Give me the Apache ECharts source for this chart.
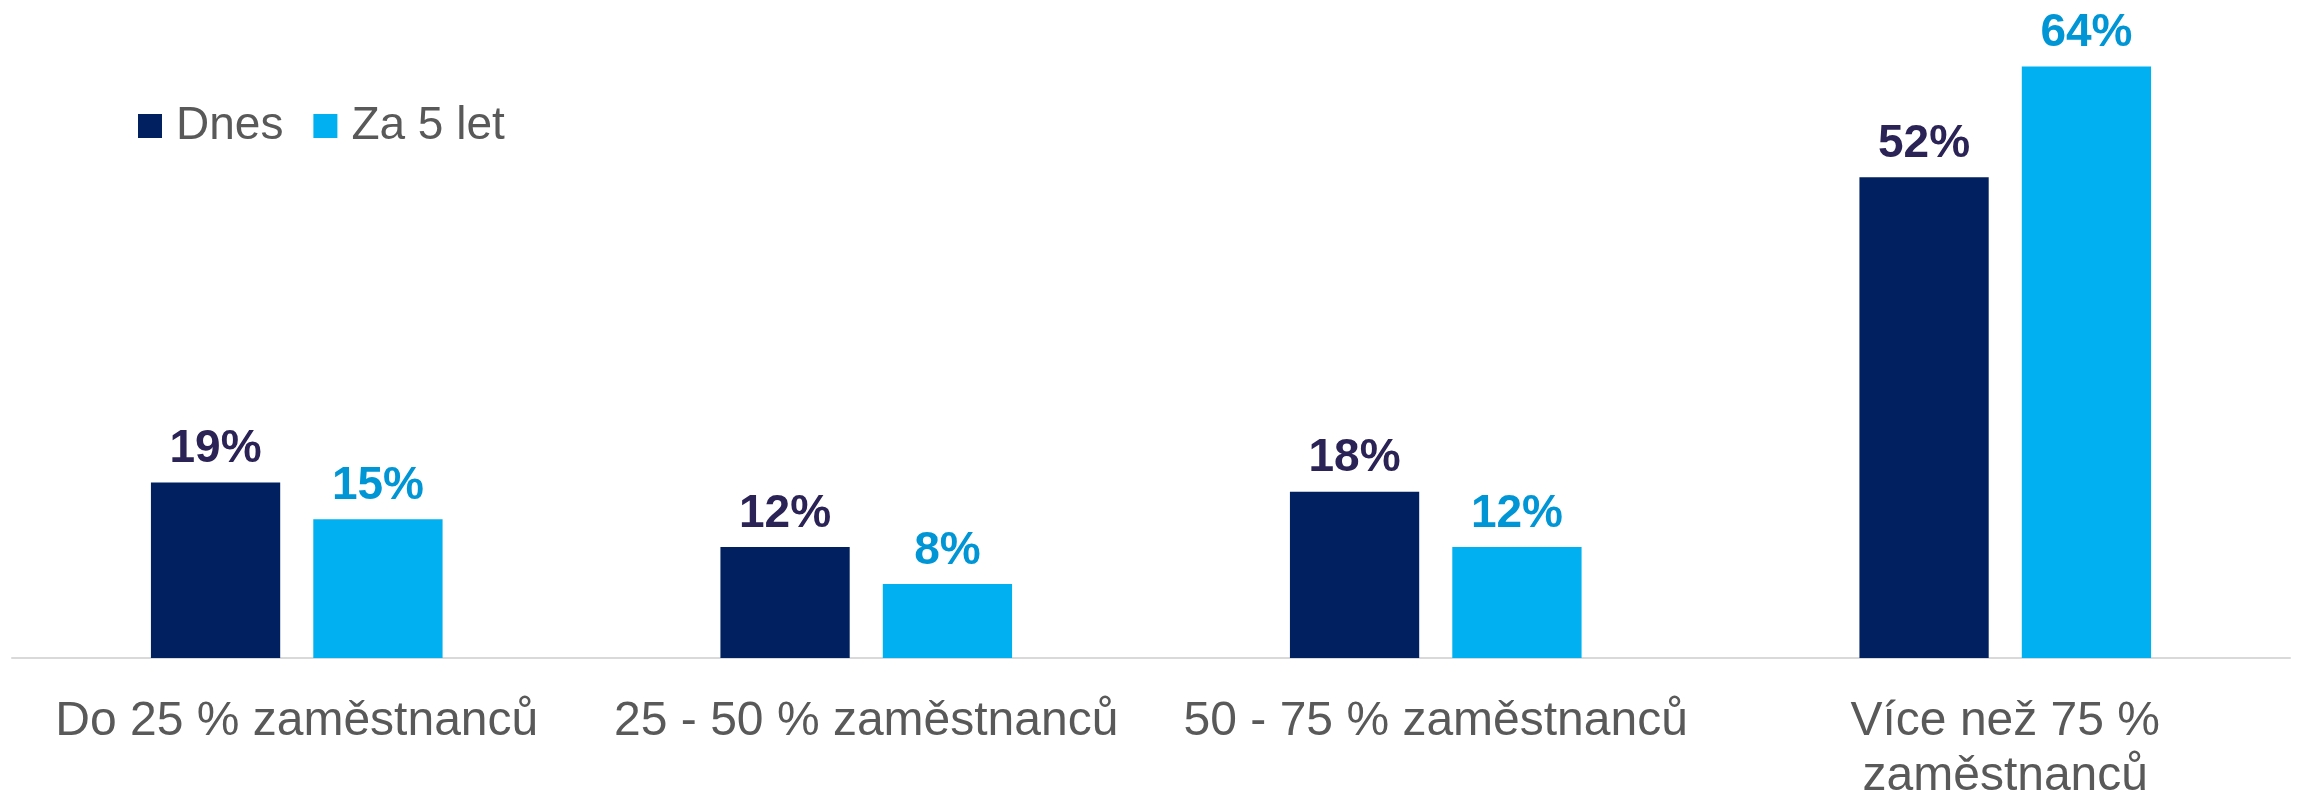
<!DOCTYPE html>
<html>
<head>
<meta charset="utf-8">
<script src="https://cdn.jsdelivr.net/npm/echarts@6/dist/echarts.min.js"></script>
<style>
  html, body { margin: 0; padding: 0; background: #fff; }
  #chart { width: 2305px; height: 790px; }
</style>
</head>
<body>
<div id="chart"></div>
<script>
const categories = ['Do 25 % zaměstnanců', '25 - 50 % zaměstnanců', '50 - 75 % zaměstnanců', 'Více než 75 %\nzaměstnanců'];
const dnes = [19, 12, 18, 52];
const za5let = [15, 8, 12, 64];

const chart = echarts.init(document.getElementById('chart'));

const labelStyle = (color) => ({
  show: true,
  position: 'top',
  distance: 10,
  formatter: '{c}%',
  color: color,
  fontFamily: 'Liberation Sans, Arial, sans-serif',
  fontWeight: 'bold',
  fontSize: 46,
});

chart.setOption({
  animation: false,
  textStyle: { fontFamily: 'Liberation Sans, Arial, sans-serif' },
  legend: {
    left: 138,
    top: 103,
    padding: 0,
    itemWidth: 24,
    itemHeight: 24,
    itemGap: 30,
    icon: 'rect',
    textStyle: { fontSize: 46, color: '#595959', padding: [0, 0, 0, 9] },
    data: ['Dnes', 'Za 5 let'],
  },
  grid: { left: 12, right: 15, top: 11, bottom: 132, containLabel: false, outerBoundsMode: 'none' },
  xAxis: {
    type: 'category',
    data: categories,
    axisTick: { show: false },
    axisLine: { lineStyle: { color: '#D9D9D9', width: 2 } },
    axisLabel: {
      fontSize: 48,
      lineHeight: 55,
      color: '#595959',
      margin: 36,
      interval: 0,
    },
  },
  yAxis: {
    type: 'value',
    min: 0,
    max: 70,
    show: false,
    splitLine: { show: false },
  },
  series: [
    {
      name: 'Dnes',
      type: 'bar',
      data: dnes,
      barWidth: '22.7%',
      barGap: '25.6%',
      itemStyle: { color: '#002060' },
      label: labelStyle('#2B2356'),
    },
    {
      name: 'Za 5 let',
      type: 'bar',
      data: za5let,
      barWidth: '22.7%',
      itemStyle: { color: '#00B0F0' },
      label: labelStyle('#0096D6'),
    },
  ],
});
</script>
</body>
</html>
